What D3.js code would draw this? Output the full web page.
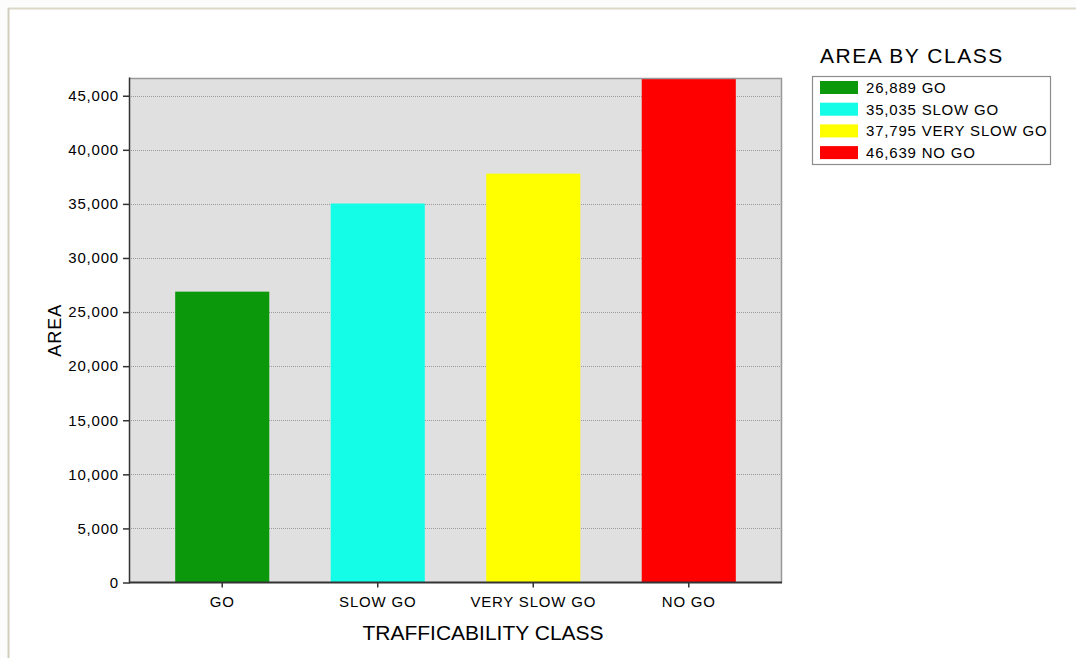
<!DOCTYPE html>
<html>
<head>
<meta charset="utf-8">
<script src="https://cdn.jsdelivr.net/npm/d3@7"></script>
<style>
  html, body { margin: 0; padding: 0; background: #ffffff; }
  svg { display: block; }
  text { font-family: "Liberation Sans", Arial, sans-serif; fill: #000; }
</style>
</head>
<body>
<svg id="chart" width="1076" height="658"></svg>
<script>
// Area per trafficability class
const categories = ["GO", "SLOW GO", "VERY SLOW GO", "NO GO"];
const areaValues = [26889, 35035, 37795, 46639];
const barColors = ["#0b990b", "#14fde6", "#ffff00", "#ff0000"];
const yTickValues = [0, 5000, 10000, 15000, 20000, 25000, 30000, 35000, 40000, 45000];

const svg = d3.select("#chart");
const W = 1076, H = 658;

// outer frame
svg.append("rect").attr("x", 0).attr("y", 0).attr("width", W).attr("height", H).attr("fill", "#fcfcfc");
svg.append("rect").attr("x", 9).attr("y", 9).attr("width", W - 9).attr("height", H - 9).attr("fill", "#ffffff");
svg.append("line").attr("x1", 8).attr("x2", W).attr("y1", 8.5).attr("y2", 8.5)
  .attr("stroke", "#dcd8c8").attr("stroke-width", 2);
svg.append("line").attr("x1", 8.5).attr("x2", 8.5).attr("y1", 8).attr("y2", H)
  .attr("stroke", "#d2cebe").attr("stroke-width", 2);

const plot = { left: 129, right: 782, top: 78, bottom: 582.5 };

const x = d3.scaleBand()
  .domain(categories)
  .range([plot.left, plot.right])
  .paddingInner(0.395)
  .paddingOuter(0.297);

const y = d3.scaleLinear()
  .domain([0, d3.max(areaValues)])
  .range([plot.bottom, plot.top]);

// plot background
svg.append("rect")
  .attr("x", plot.left).attr("y", plot.top)
  .attr("width", plot.right - plot.left).attr("height", plot.bottom - plot.top)
  .attr("fill", "#e0e0e0");

// dotted gridlines
svg.append("g").selectAll("line")
  .data(yTickValues.filter(d => d > 0))
  .join("line")
  .attr("x1", plot.left).attr("x2", plot.right)
  .attr("y1", d => Math.round(y(d)) + 0.5).attr("y2", d => Math.round(y(d)) + 0.5)
  .attr("stroke", "#9a9a9a").attr("stroke-width", 1)
  .attr("stroke-dasharray", "1,1");

// bars
svg.append("g").selectAll("rect")
  .data(categories)
  .join("rect")
  .attr("x", d => x(d))
  .attr("width", x.bandwidth())
  .attr("y", (d, i) => y(areaValues[i]))
  .attr("height", (d, i) => plot.bottom - y(areaValues[i]))
  .attr("fill", (d, i) => barColors[i]);

// plot border (top / right)
svg.append("path")
  .attr("d", `M${plot.left},${plot.top + 0.5}H${plot.right - 0.5}V${plot.bottom}`)
  .attr("fill", "none").attr("stroke", "#999").attr("stroke-width", 1.5);

// y axis
const yAxis = d3.axisLeft(y)
  .tickValues(yTickValues)
  .tickFormat(d3.format(","))
  .tickSize(6)
  .tickPadding(4);
const gy = svg.append("g").attr("transform", `translate(${plot.left},0)`).call(yAxis);
gy.select(".domain").remove();
gy.selectAll(".tick line").attr("stroke", "#333").attr("stroke-width", 1.5);
gy.selectAll(".tick text")
  .style("font-family", '"Liberation Sans", Arial, sans-serif')
  .style("font-size", "15px").style("letter-spacing", "0.8px").attr("fill", "#000");
svg.append("line").attr("x1", plot.left + 0.5).attr("x2", plot.left + 0.5)
  .attr("y1", plot.top - 0.5).attr("y2", plot.bottom + 1)
  .attr("stroke", "#333").attr("stroke-width", 1.5);

// x axis
const xAxis = d3.axisBottom(x).tickSize(5).tickPadding(9);
const gx = svg.append("g").attr("transform", `translate(0,${plot.bottom})`).call(xAxis);
gx.select(".domain").remove();
gx.selectAll(".tick line").attr("stroke", "#333").attr("stroke-width", 1.5);
gx.selectAll(".tick text")
  .style("font-family", '"Liberation Sans", Arial, sans-serif')
  .style("font-size", "15px").style("letter-spacing", "0.8px").attr("fill", "#000");
svg.append("line").attr("x1", plot.left).attr("x2", plot.right)
  .attr("y1", plot.bottom).attr("y2", plot.bottom)
  .attr("stroke", "#333").attr("stroke-width", 2);

// axis titles
svg.append("text")
  .attr("x", 483).attr("y", 640)
  .attr("text-anchor", "middle")
  .style("font-size", "21px")
  .text("TRAFFICABILITY CLASS");

svg.append("text")
  .attr("transform", `translate(61,${(plot.top + plot.bottom) / 2}) rotate(-90)`)
  .attr("text-anchor", "middle")
  .style("font-size", "18px").style("letter-spacing", "1px")
  .text("AREA");

// legend
svg.append("text")
  .attr("x", 820).attr("y", 63)
  .style("font-size", "21px").style("letter-spacing", "1.5px")
  .text("AREA BY CLASS");

svg.append("rect")
  .attr("x", 812.5).attr("y", 76.5).attr("width", 238).attr("height", 88)
  .attr("fill", "#ffffff").attr("stroke", "#8c8c8c").attr("stroke-width", 1.2);

const fmt = d3.format(",");
const rows = svg.append("g").selectAll("g")
  .data(categories)
  .join("g")
  .attr("transform", (d, i) => `translate(820,${81 + i * 21.7})`);
rows.append("rect")
  .attr("width", 38).attr("height", 13)
  .attr("fill", (d, i) => barColors[i]);
rows.append("text")
  .attr("x", 46).attr("y", 12)
  .style("font-size", "15px").style("letter-spacing", "0.8px")
  .text((d, i) => `${fmt(areaValues[i])} ${d}`);
</script>
</body>
</html>
